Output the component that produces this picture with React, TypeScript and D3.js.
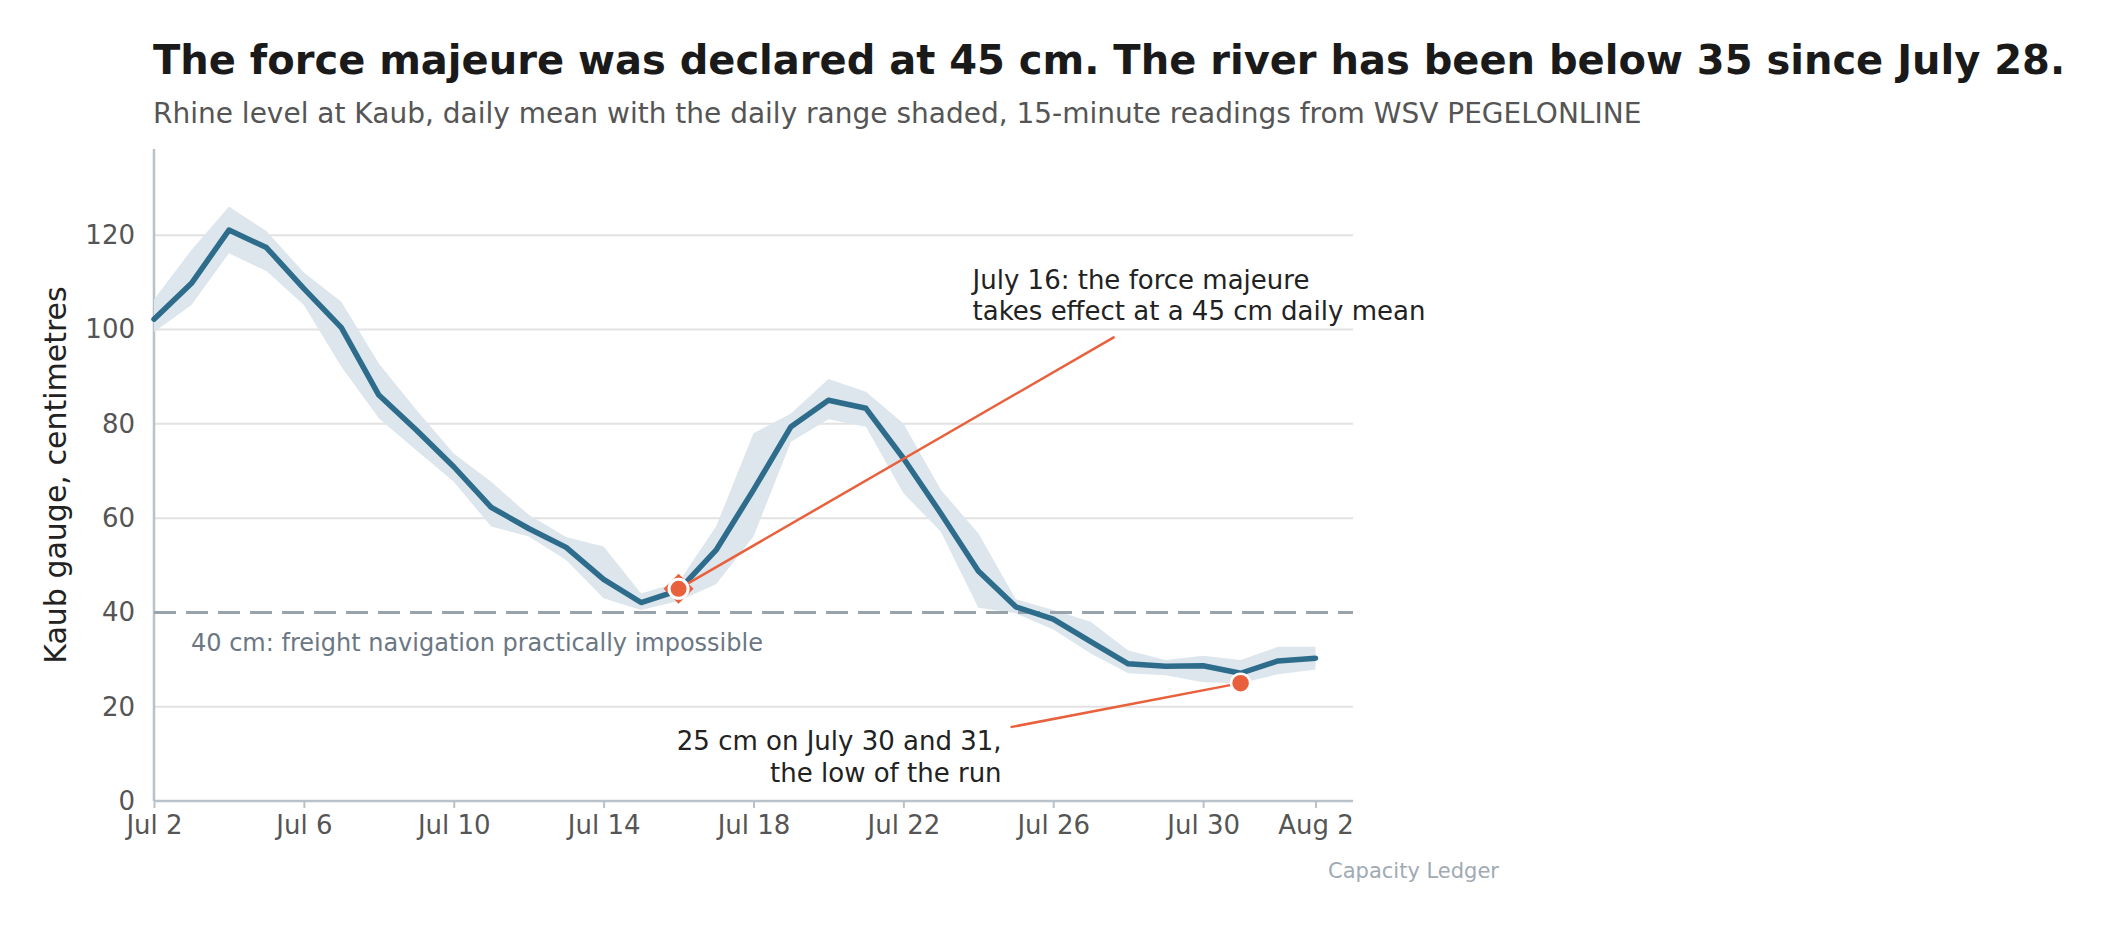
import { useEffect, useRef } from "react"
import * as d3 from "d3"

// Kaub gauge, Jul 2 .. Aug 2 (one value per day)
const startDay = Date.UTC(2025, 6, 2)
const meanLevel = [
  102.2, 109.8, 121.1, 117.4, 108.7, 100.4, 86.1, 78.7, 70.9, 62.3, 57.8, 53.8, 47.0, 42.1, 44.7, 53.2,
  66.0, 79.4, 85.0, 83.3, 72.7, 61.0, 48.8, 41.2, 38.6, 33.8, 29.1, 28.6, 28.7, 27.1, 29.7, 30.3,
]
const highLevel = [
  106.4, 116.9, 126.1, 120.9, 112.1, 105.9, 92.8, 83.0, 73.7, 67.7, 60.7, 56.0, 54.0, 44.0, 46.4, 58.2,
  78.0, 82.2, 89.5, 86.8, 80.1, 66.0, 56.8, 42.8, 40.5, 38.0, 31.9, 29.9, 30.8, 29.9, 32.7, 32.7,
]
const lowLevel = [
  99.5, 105.2, 116.2, 112.4, 105.2, 92.1, 81.2, 74.4, 67.7, 58.2, 56.1, 51.1, 43.0, 40.5, 42.4, 46.0,
  56.1, 76.2, 81.0, 79.4, 65.3, 57.1, 41.0, 39.8, 36.4, 31.3, 27.1, 26.7, 25.2, 25.0, 26.9, 27.9,
]
const yTicks = [0, 20, 40, 60, 80, 100, 120]
const xTickDays = [0, 4, 8, 12, 16, 20, 24, 28, 31] // offsets from Jul 2
const threshold = 40

const titleText = "The force majeure was declared at 45 cm. The river has been below 35 since July 28."
const subtitleText =
  "Rhine level at Kaub, daily mean with the daily range shaded, 15-minute readings from WSV PEGELONLINE"

const dayMs = 24 * 3600 * 1000
const dayAt = (i: number) => new Date(startDay + i * dayMs)

interface Row {
  date: Date
  mean: number
  high: number
  low: number
}

const rows: Row[] = meanLevel.map((m, i) => ({ date: dayAt(i), mean: m, high: highLevel[i], low: lowLevel[i] }))

export default function App() {
  const svgRef = useRef<SVGSVGElement>(null)

  useEffect(() => {
    if (!svgRef.current) return
    const svg = d3.select(svgRef.current)
    svg.selectAll("*").remove()

    const font = "DejaVu Sans, sans-serif"
    const left = 154
    const right = 1353
    const top = 149
    const bottom = 801

    const x = d3.scaleUtc().domain([dayAt(0), dayAt(32)]).range([left, right])
    const y = d3.scaleLinear().domain([0, 138.3]).range([bottom, top])

    // titles
    svg.append("text")
      .attr("x", 153).attr("y", 74)
      .attr("font-family", font).attr("font-size", 40).attr("font-weight", "bold")
      .attr("fill", "#1a1a1a")
      .text(titleText)
    svg.append("text")
      .attr("x", 153).attr("y", 123)
      .attr("font-family", font).attr("font-size", 28)
      .attr("fill", "#555")
      .text(subtitleText)

    // gridlines
    svg.append("g")
      .selectAll("line")
      .data(yTicks.filter((t) => t > 0 && t !== threshold))
      .join("line")
      .attr("x1", left).attr("x2", right)
      .attr("y1", (d) => y(d)).attr("y2", (d) => y(d))
      .attr("stroke", "#e2e2e2").attr("stroke-width", 2)

    // y axis
    const yAxis = svg.append("g")
      .attr("transform", `translate(${left},0)`)
      .call(d3.axisLeft(y).tickValues(yTicks).tickSize(0).tickPadding(19))
    yAxis.select(".domain").remove()
    yAxis.selectAll("text")
      .attr("font-family", font).attr("font-size", 26).attr("fill", "#555")
    svg.append("line")
      .attr("x1", left).attr("x2", left).attr("y1", top).attr("y2", bottom)
      .attr("stroke", "#b9c1c9").attr("stroke-width", 2.5)

    // x axis
    const xAxis = svg.append("g")
      .attr("transform", `translate(0,${bottom})`)
      .call(
        d3.axisBottom(x)
          .tickValues(xTickDays.map(dayAt))
          .tickSize(7)
          .tickPadding(8)
          .tickFormat((d: any) => d3.utcFormat("%b %-d")(d))
      )
    xAxis.select(".domain").attr("stroke", "#b9c1c9").attr("stroke-width", 2.5)
      .attr("d", `M${left},0H${right}`)
    xAxis.selectAll(".tick line").attr("stroke", "#b9c1c9").attr("stroke-width", 2)
    xAxis.selectAll("text")
      .attr("font-family", font).attr("font-size", 26).attr("fill", "#555")

    // axis title
    svg.append("text")
      .attr("transform", `translate(66,${(top + bottom) / 2}) rotate(-90)`)
      .attr("text-anchor", "middle")
      .attr("font-family", font).attr("font-size", 30).attr("fill", "#222")
      .text("Kaub gauge, centimetres")

    // daily range band
    const area = d3.area<Row>()
      .x((d) => x(d.date))
      .y0((d) => y(d.low))
      .y1((d) => y(d.high))
    svg.append("path").datum(rows)
      .attr("d", area)
      .attr("fill", "#dde6ed")

    // threshold
    svg.append("line")
      .attr("x1", left).attr("x2", right)
      .attr("y1", y(threshold)).attr("y2", y(threshold))
      .attr("stroke", "#99a3ac").attr("stroke-width", 3)
      .attr("stroke-dasharray", "22 10")
    svg.append("text")
      .attr("x", 191).attr("y", y(threshold) + 39)
      .attr("font-family", font).attr("font-size", 24).attr("fill", "#6b7783")
      .text("40 cm: freight navigation practically impossible")

    // mean line
    const line = d3.line<Row>().x((d) => x(d.date)).y((d) => y(d.mean))
    svg.append("path").datum(rows)
      .attr("d", line)
      .attr("fill", "none")
      .attr("stroke", "#2e6c8c")
      .attr("stroke-width", 5.5)
      .attr("stroke-linejoin", "round")
      .attr("stroke-linecap", "round")

    const accent = "#e8603c"

    // annotation 1: July 16
    const p1x = x(dayAt(14))
    const p1y = y(45)
    svg.append("line")
      .attr("x1", p1x).attr("y1", p1y).attr("x2", p1x + 436).attr("y2", p1y - 252)
      .attr("stroke", accent).attr("stroke-width", 2.5)
    const t1 = svg.append("text")
      .attr("font-family", font).attr("font-size", 26).attr("fill", "#222")
    ;["July 16: the force majeure", "takes effect at a 45 cm daily mean"].forEach((s, i) => {
      t1.append("tspan").attr("x", p1x + 294).attr("y", p1y - 300 + i * 31.5).text(s)
    })
    svg.append("path")
      .attr("d", d3.symbol(d3.symbolSquare, 450)())
      .attr("transform", `translate(${p1x},${p1y}) rotate(45)`)
      .attr("fill", accent)
    svg.append("circle")
      .attr("cx", p1x).attr("cy", p1y).attr("r", 9.5)
      .attr("fill", accent).attr("stroke", "#fff").attr("stroke-width", 3)

    // annotation 2: low of the run
    const p2x = x(dayAt(29))
    const p2y = y(25)
    svg.append("line")
      .attr("x1", p2x).attr("y1", p2y).attr("x2", p2x - 230).attr("y2", p2y + 44)
      .attr("stroke", accent).attr("stroke-width", 2.5)
    const t2 = svg.append("text")
      .attr("font-family", font).attr("font-size", 26).attr("fill", "#222")
      .attr("text-anchor", "end")
    ;["25 cm on July 30 and 31,", "the low of the run"].forEach((s, i) => {
      t2.append("tspan").attr("x", p2x - 239).attr("y", p2y + 67 + i * 31.5).text(s)
    })
    svg.append("circle")
      .attr("cx", p2x).attr("cy", p2y).attr("r", 9.5)
      .attr("fill", accent).attr("stroke", "#fff").attr("stroke-width", 2.5)

    // source credit
    svg.append("text")
      .attr("x", 1499).attr("y", 878)
      .attr("text-anchor", "end")
      .attr("font-family", font).attr("font-size", 21).attr("fill", "#a0aab4")
      .text("Capacity Ledger")
  }, [])

  return (
    <svg
      ref={svgRef}
      width={2112}
      height={929}
      style={{ position: "absolute", left: 0, top: 0, background: "#fff" }}
    />
  )
}
